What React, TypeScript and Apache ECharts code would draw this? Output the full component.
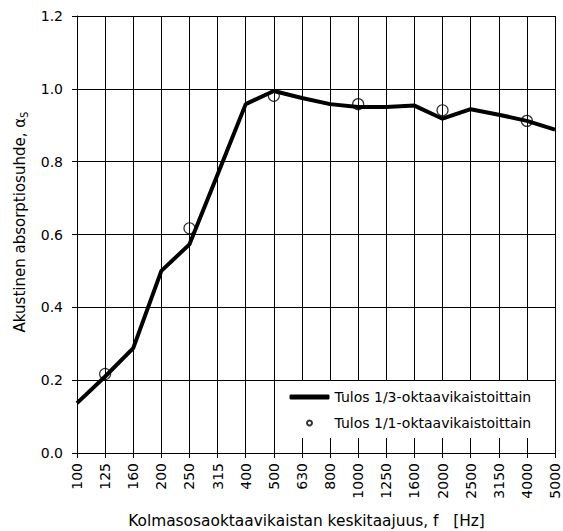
import React, { useEffect, useRef } from "react";
import * as echarts from "echarts";

const categories = ["100", "125", "160", "200", "250", "315", "400", "500", "630", "800", "1000", "1250", "1600", "2000", "2500", "3150", "4000", "5000"];
const thirdOctave = [0.137, 0.21, 0.288, 0.5, 0.573, 0.765, 0.958, 0.994, 0.975, 0.958, 0.95, 0.95, 0.954, 0.918, 0.944, 0.929, 0.912, 0.888];
const octave = [null, 0.217, null, null, 0.617, null, null, 0.981, null, null, 0.958, null, null, 0.941, null, null, 0.912, null];
const yTicks = { min: 0, max: 1.2, interval: 0.2 };
const seriesNames = ["Tulos 1/3-oktaavikaistoittain", "Tulos 1/1-oktaavikaistoittain"];
const xTitle = "Kolmasosaoktaavikaistan keskitaajuus, f   [Hz]";
const yTitle = "Akustinen absorptiosuhde, α";
const ySub = "S";

const FONT = "DejaVu Sans, Verdana, sans-serif";

export default function App() {
  const ref = useRef<HTMLDivElement>(null);
  useEffect(() => {
    if (!ref.current) return;
    const chart = echarts.init(ref.current, null, { renderer: "svg" });
    chart.setOption({
      animation: false,
      backgroundColor: "#fff",
      textStyle: { fontFamily: FONT, color: "#000" },
      grid: { left: 77, right: 8, top: 16, bottom: 78 },
      xAxis: {
        type: "category",
        data: categories,
        boundaryGap: false,
        axisLine: { lineStyle: { color: "#000", width: 1 } },
        axisTick: { show: true, length: 5, inside: false, alignWithLabel: true, lineStyle: { color: "#000" } },
        axisLabel: { rotate: 90, margin: 10, fontSize: 14, color: "#000", fontFamily: FONT, interval: 0 },
        splitLine: { show: true, lineStyle: { color: "#000", width: 1 } },
      },
      yAxis: {
        type: "value",
        min: yTicks.min,
        max: yTicks.max,
        interval: yTicks.interval,
        axisLine: { show: true, lineStyle: { color: "#000", width: 1 } },
        axisTick: { show: true, length: 5, lineStyle: { color: "#000" } },
        axisLabel: { margin: 14, fontSize: 14, color: "#000", fontFamily: FONT, formatter: (v: number) => v.toFixed(1) },
        splitLine: { show: true, lineStyle: { color: "#000", width: 1 } },
      },
      legend: {
        orient: "vertical",
        left: 275,
        top: 381,
        padding: [9, 22, 8, 14.5],
        itemGap: 12,
        itemWidth: 40,
        itemHeight: 5,
        backgroundColor: "#fff",
        textStyle: { fontSize: 14, color: "#000", fontFamily: FONT },
        data: [
          { name: seriesNames[0], icon: "roundRect", itemStyle: { color: "#000", borderWidth: 0 } },
          { name: seriesNames[1], icon: "circle" },
        ],
      },
      graphic: [
        {
          type: "text",
          x: 20,
          y: 222,
          rotation: Math.PI / 2,
          style: {
            text: `{a|${yTitle}}{s|${ySub}}`,
            align: "center",
            verticalAlign: "middle",
            fill: "#000",
            rich: {
              a: { fontSize: 15, fontFamily: FONT, fill: "#000" },
              s: { fontSize: 10, fontFamily: FONT, fill: "#000", padding: [8, 0, 0, 0] },
            },
          },
        },
        {
          type: "text",
          x: 306.5,
          y: 521,
          style: {
            text: xTitle,
            align: "center",
            verticalAlign: "middle",
            fontSize: 15.4,
            fontFamily: FONT,
            fill: "#000",
          },
        },
      ],
      series: [
        {
          name: seriesNames[0],
          type: "line",
          data: thirdOctave,
          symbol: "none",
          lineStyle: { color: "#000", width: 4 },
          itemStyle: { color: "#000" },
          z: 2,
        },
        {
          name: seriesNames[1],
          type: "scatter",
          data: octave,
          symbol: "circle",
          symbolSize: 11,
          itemStyle: { color: "none", borderColor: "#000", borderWidth: 1.2 },
          z: 3,
        },
      ],
    });
    return () => chart.dispose();
  }, []);
  return <div ref={ref} style={{ position: "fixed", left: 0, top: 0, width: 563, height: 531 }} />;
}
